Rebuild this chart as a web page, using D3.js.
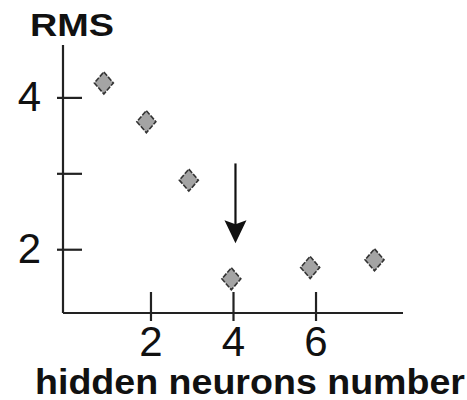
<!DOCTYPE html>
<html>
<head>
<meta charset="utf-8">
<script src="https://cdn.jsdelivr.net/npm/d3@7"></script>
<style>
  html, body { margin: 0; padding: 0; background: #ffffff; }
  svg { display: block; }
  text { font-family: "Liberation Sans", Arial, sans-serif; fill: #111; }
</style>
</head>
<body>
<svg id="chart" width="467" height="400"></svg>
<script>
// RMS error against number of hidden neurons
const neurons = [0.87, 1.90, 2.93, 3.96, 5.87, 7.43];
const rms = [4.19, 3.68, 2.91, 1.61, 1.76, 1.86];
const xTicks = [2, 4, 6];
const yTicks = [2, 3, 4];
const yTickLabels = ["2", "", "4"];
const arrowX = 4.06;
const arrowFrom = 3.13;
const arrowTo = 2.08;

const svg = d3.select("#chart");

const x = d3.scaleLinear().domain([-0.12, 8.12]).range([63, 403]);
const y = d3.scaleLinear().domain([1.16, 4.69]).range([313, 45]);

// markers (drawn first so the ticks sit on top)
const diamond = "M0,-11L9.5,0L0,11L-9.5,0Z";
svg.append("g")
  .selectAll("path")
  .data(neurons.map((n, i) => ({ n, v: rms[i] })))
  .join("path")
  .attr("d", diamond)
  .attr("transform", d => `translate(${x(d.n)},${y(d.v)})`)
  .attr("fill", "#a4a4a4")
  .attr("stroke", "#333")
  .attr("stroke-width", 1.6)
  .attr("stroke-dasharray", "5,1.5");

// y axis
const yAxis = svg.append("g")
  .attr("transform", `translate(${x(-0.12)},0)`)
  .call(d3.axisLeft(y)
    .tickValues(yTicks)
    .tickSize(6)
    .tickPadding(16)
    .tickFormat((d, i) => yTickLabels[i]));
yAxis.selectAll(".tick line").attr("x1", 19);

// x axis
const xAxis = svg.append("g")
  .attr("transform", `translate(0,${y(1.16)})`)
  .call(d3.axisBottom(x)
    .tickValues(xTicks)
    .tickSize(8)
    .tickPadding(5)
    .tickFormat(d3.format("d")));
xAxis.selectAll(".tick line").attr("y1", -21);

[yAxis, xAxis].forEach(g => {
  g.select(".domain").attr("stroke", "#222").attr("stroke-width", 2.2);
  g.selectAll(".tick line").attr("stroke", "#222").attr("stroke-width", 2.2);
  g.selectAll(".tick text")
    .attr("font-family", "'Liberation Sans', Arial, sans-serif")
    .attr("font-size", 42)
    .attr("fill", "#111");
});
xAxis.select(".domain").attr("d", `M${x(-0.12)},0H${x(8.12)}`);
yAxis.select(".domain").attr("d", `M0,${y(4.69)}V${y(1.16)}`);

// arrow pointing at the minimum
svg.append("line")
  .attr("x1", x(arrowX)).attr("x2", x(arrowX))
  .attr("y1", y(arrowFrom)).attr("y2", y(arrowTo) - 15)
  .attr("stroke", "#111").attr("stroke-width", 2.2);
svg.append("path")
  .attr("d", "M0,0L-11,-23L0,-19L11,-23Z")
  .attr("transform", `translate(${x(arrowX)},${y(arrowTo)})`)
  .attr("fill", "#111");

// titles
svg.append("text")
  .attr("x", 30).attr("y", 36)
  .attr("font-size", 32).attr("font-weight", "bold")
  .attr("textLength", 84).attr("lengthAdjust", "spacingAndGlyphs")
  .text("RMS");

svg.append("text")
  .attr("x", 35).attr("y", 394)
  .attr("font-size", 35).attr("font-weight", "bold")
  .attr("textLength", 430).attr("lengthAdjust", "spacingAndGlyphs")
  .text("hidden neurons number");
</script>
</body>
</html>
